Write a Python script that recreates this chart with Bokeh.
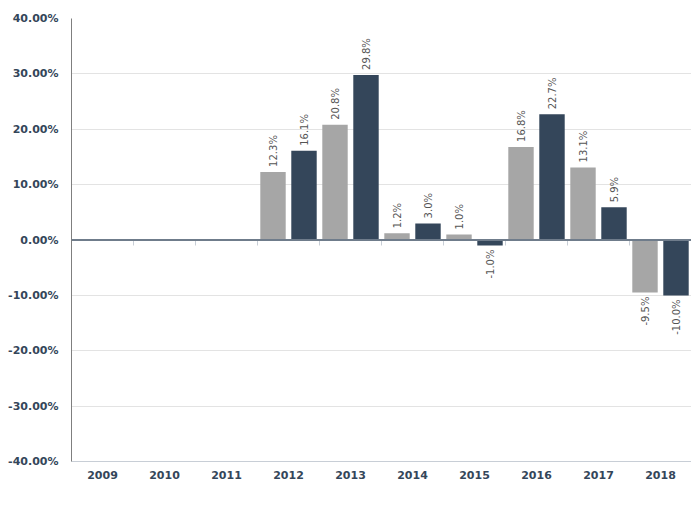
import numpy as np
from bokeh.plotting import figure
from bokeh.models import (ColumnDataSource, Range1d, LinearAxis, FixedTicker,
                          PrintfTickFormatter, Span, Legend, LegendItem)
from bokeh.transform import dodge
from bokeh.core.properties import value
from bokeh.embed import file_html
from bokeh.resources import INLINE

# ---- data ----
years = ["2009", "2010", "2011", "2012", "2013", "2014", "2015", "2016", "2017", "2018"]
fund = [None, None, None, 16.1, 29.8, 3.0, -1.0, 22.7, 5.9, -10.0]
ftse = [None, None, None, 12.3, 20.8, 1.2, 1.0, 16.8, 13.1, -9.5]
y_ticks = [-40, -30, -20, -10, 0, 10, 20, 30, 40]

FUND_COLOR = "#34465a"
FTSE_COLOR = "#a6a6a6"
TEXT_COLOR = "#34465a"
FONT = "DejaVu Sans"


def make_sources(vals):
    allv = dict(x=[], y=[], label=[])
    pos = dict(x=[], y=[], label=[])
    neg = dict(x=[], y=[], label=[])
    for i, v in enumerate(vals):
        if v is None:
            continue
        lab = f"{v:.1f}%"
        for d in (allv, pos if v >= 0 else neg):
            d["x"].append(i + 0.5)
            d["y"].append(v)
            d["label"].append(lab)
    return ColumnDataSource(allv), ColumnDataSource(pos), ColumnDataSource(neg)


n = len(years)
p = figure(frame_width=620, frame_height=443, x_range=Range1d(0, n),
           y_range=Range1d(min(y_ticks), max(y_ticks)),
           output_backend="svg", toolbar_location=None, x_axis_type=None,
           min_border_left=71, min_border_right=0, min_border_top=18,
           min_border_bottom=0)
p.outline_line_color = None
p.background_fill_color = "white"

# y axis
p.yaxis.ticker = FixedTicker(ticks=y_ticks)
p.yaxis.formatter = PrintfTickFormatter(format="%.2f%%")
p.yaxis.major_tick_line_color = None
p.yaxis.minor_tick_line_color = None
p.yaxis.axis_line_color = "#7f7f7f"
p.yaxis.major_label_text_font = FONT
p.yaxis.major_label_text_font_style = "bold"
p.yaxis.major_label_text_font_size = "11px"
p.yaxis.major_label_text_color = TEXT_COLOR
p.yaxis.major_label_standoff = 7
p.ygrid.ticker = FixedTicker(ticks=y_ticks)
p.ygrid.grid_line_color = "#e3e3e3"

# x label axis
centers = [i + 0.5 for i in range(n)]
xaxis = LinearAxis(ticker=FixedTicker(ticks=centers),
                   major_label_overrides={c: y for c, y in zip(centers, years)})
xaxis.major_tick_line_color = None
xaxis.major_tick_out = 0
xaxis.major_tick_in = 0
xaxis.minor_tick_line_color = None
xaxis.axis_line_color = "#c8ced6"
xaxis.major_label_text_font = FONT
xaxis.major_label_text_font_style = "bold"
xaxis.major_label_text_font_size = "11px"
xaxis.major_label_text_color = TEXT_COLOR
xaxis.major_label_standoff = 9
p.add_layout(xaxis, "below")

# boundary ticks on the zero line
bounds = list(range(1, n))
tick_axis = LinearAxis(ticker=FixedTicker(ticks=bounds), fixed_location=0,
                       major_label_overrides={b: "" for b in bounds})
tick_axis.axis_line_color = None
tick_axis.major_tick_line_color = "#c8ced6"
tick_axis.major_tick_out = 5
tick_axis.major_tick_in = 0
tick_axis.minor_tick_line_color = None
tick_axis.major_label_standoff = 0
tick_axis.major_label_text_font_size = "5px"
p.add_layout(tick_axis, "below")

p.add_layout(Span(location=0, dimension="width", line_color="#6f7c8b", line_width=2))

ft_all, ft_pos, ft_neg = make_sources(ftse)
fu_all, fu_pos, fu_neg = make_sources(fund)

OFF = 0.25
W = 0.41
ftse_r = p.vbar(x=dodge("x", -OFF, range=p.x_range), top="y", bottom=0, width=W,
                source=ft_all, fill_color=FTSE_COLOR, line_color=None)
fund_r = p.vbar(x=dodge("x", OFF, range=p.x_range), top="y", bottom=0, width=W,
                source=fu_all, fill_color=FUND_COLOR, line_color=None)

for off, pos, neg in ((-OFF, ft_pos, ft_neg), (OFF, fu_pos, fu_neg)):
    common = dict(x=dodge("x", off, range=p.x_range), y="y", text="label",
                  angle=np.pi / 2, text_baseline="middle",
                  text_font=value(FONT), text_font_size="10px", text_color="#555555")
    p.text(source=pos, text_align="left", y_offset=-5, **common)
    p.text(source=neg, text_align="right", y_offset=4, **common)

leg = Legend(items=[LegendItem(label="Fund", renderers=[fund_r]),
                    LegendItem(label="FTSE All Share", renderers=[ftse_r])],
             location="top_center", orientation="horizontal", spacing=70,
             glyph_width=7, glyph_height=7, label_standoff=2, padding=0, margin=0,
             border_line_color=None, background_fill_alpha=0, label_text_font=FONT,
             label_text_font_size="12px", label_text_color=TEXT_COLOR,
             label_width=145, label_height=7)
p.add_layout(leg, "below")

open("out.html", "w").write(file_html(p, INLINE))
